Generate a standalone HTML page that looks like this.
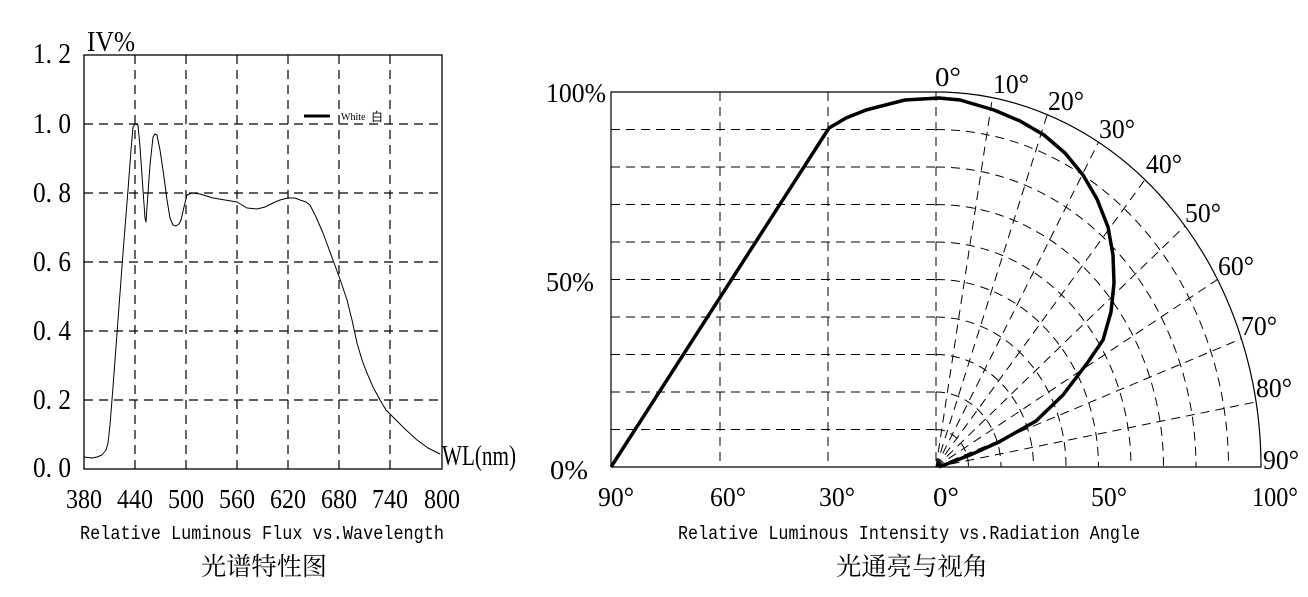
<!DOCTYPE html>
<html><head><meta charset="utf-8"><style>
html,body{margin:0;padding:0;background:#fff}
svg{display:block}
text{font-family:"Liberation Serif","Noto Serif CJK SC",serif;fill:#000}
.m{font-family:"Liberation Mono","Noto Sans CJK SC",monospace}
</style></head><body>
<svg width="1308" height="597" viewBox="0 0 1308 597" xmlns="http://www.w3.org/2000/svg">
<!-- LEFT CHART -->
<g stroke="#000" stroke-width="1.2" fill="none" stroke-dasharray="9,6">
<line x1="135" y1="55" x2="135" y2="469"/><line x1="186" y1="55" x2="186" y2="469"/>
<line x1="237" y1="55" x2="237" y2="469"/><line x1="288" y1="55" x2="288" y2="469"/>
<line x1="339" y1="55" x2="339" y2="469"/><line x1="390" y1="55" x2="390" y2="469"/>
<line x1="84" y1="124" x2="442" y2="124"/><line x1="84" y1="193" x2="442" y2="193"/>
<line x1="84" y1="262" x2="442" y2="262"/><line x1="84" y1="331" x2="442" y2="331"/>
<line x1="84" y1="400" x2="442" y2="400"/>
</g>
<rect x="84" y="55" width="358" height="414" fill="none" stroke="#000" stroke-width="1.3"/>
<polyline fill="none" stroke="#000" stroke-width="1" stroke-linejoin="round" points="84,457 92,458 97,457 102,455 106,450 108,443 110,425 113,387 118,320 123,253 128,190 131,150 133,127 135,124 138,125 140,147 143,190 145,218 146,222 147,207 150,165 153,137 155,134 157,135 160,150 163,170 167,200 170,218 173,225 176,226 179,224 181,220 184,207 187,195 192,193 200,194 213,198 225,200 237,202 242,205 247,208 257,209 265,207 273,203 280,200 288,198 295,198 300,200 306,202 310,205 316,217 323,233 333,260 341,282 347,300 352,320 357,343 362,360 367,373 373,387 380,400 386,410 393,417 405,429 417,440 428,448 440,454"/>
<line x1="304" y1="116" x2="330" y2="116" stroke="#000" stroke-width="3"/>
<text x="341" y="120" font-size="10">White</text><text x="371" y="121" font-size="12" style="font-family:'Noto Sans CJK SC',sans-serif">白</text>
<g font-size="29" lengthAdjust="spacingAndGlyphs">
<text x="33" y="63" textLength="38" lengthAdjust="spacingAndGlyphs">1. 2</text>
<text x="33" y="133" textLength="38" lengthAdjust="spacingAndGlyphs">1. 0</text>
<text x="33" y="202" textLength="38" lengthAdjust="spacingAndGlyphs">0. 8</text>
<text x="33" y="271" textLength="38" lengthAdjust="spacingAndGlyphs">0. 6</text>
<text x="33" y="340" textLength="38" lengthAdjust="spacingAndGlyphs">0. 4</text>
<text x="33" y="409" textLength="38" lengthAdjust="spacingAndGlyphs">0. 2</text>
<text x="33" y="477" textLength="38" lengthAdjust="spacingAndGlyphs">0. 0</text>
<text x="87" y="51" textLength="48" lengthAdjust="spacingAndGlyphs">IV%</text>
<text x="442" y="465" textLength="74" lengthAdjust="spacingAndGlyphs">WL(nm)</text>
</g>
<g font-size="27" text-anchor="middle">
<text x="84" y="508" textLength="36" lengthAdjust="spacingAndGlyphs">380</text><text x="135" y="508" textLength="36" lengthAdjust="spacingAndGlyphs">440</text>
<text x="186" y="508" textLength="36" lengthAdjust="spacingAndGlyphs">500</text><text x="237" y="508" textLength="36" lengthAdjust="spacingAndGlyphs">560</text>
<text x="288" y="508" textLength="36" lengthAdjust="spacingAndGlyphs">620</text><text x="339" y="508" textLength="36" lengthAdjust="spacingAndGlyphs">680</text>
<text x="390" y="508" textLength="36" lengthAdjust="spacingAndGlyphs">740</text><text x="442" y="508" textLength="36" lengthAdjust="spacingAndGlyphs">800</text>
</g>
<text class="m" x="80" y="539" font-size="19" textLength="364" lengthAdjust="spacingAndGlyphs">Relative Luminous Flux vs.Wavelength</text>
<text x="201" y="575" font-size="25" textLength="126" lengthAdjust="spacingAndGlyphs" style="font-family:'Noto Serif CJK SC',serif">光谱特性图</text>

<!-- RIGHT CHART -->
<g stroke="#000" stroke-width="1" fill="none" stroke-dasharray="9,6">
<line x1="720" y1="92" x2="720" y2="467"/><line x1="828" y1="92" x2="828" y2="467"/>
<line x1="936" y1="92" x2="936" y2="467"/>
<line x1="611" y1="129.5" x2="936" y2="129.5"/><line x1="611" y1="167" x2="936" y2="167"/>
<line x1="611" y1="204.5" x2="936" y2="204.5"/><line x1="611" y1="242" x2="936" y2="242"/>
<line x1="611" y1="279.5" x2="936" y2="279.5"/><line x1="611" y1="317" x2="936" y2="317"/>
<line x1="611" y1="354.5" x2="936" y2="354.5"/><line x1="611" y1="392" x2="936" y2="392"/>
<line x1="611" y1="429.5" x2="936" y2="429.5"/>
<path d="M936,429.5 A32.5,37.5 0 0 1 968.5,467"/>
<path d="M936,392 A65,75 0 0 1 1001,467"/>
<path d="M936,354.5 A97.5,112.5 0 0 1 1033.5,467"/>
<path d="M936,317 A130,150 0 0 1 1066,467"/>
<path d="M936,279.5 A162.5,187.5 0 0 1 1098.5,467"/>
<path d="M936,242 A195,225 0 0 1 1131,467"/>
<path d="M936,204.5 A227.5,262.5 0 0 1 1163.5,467"/>
<path d="M936,167 A260,300 0 0 1 1196,467"/>
<path d="M936,129.5 A292.5,337.5 0 0 1 1228.5,467"/>
<line x1="936" y1="467" x2="992.4" y2="97.7"/><line x1="936" y1="467" x2="1047.2" y2="114.6"/>
<line x1="936" y1="467" x2="1098.5" y2="142.2"/><line x1="936" y1="467" x2="1144.9" y2="179.7"/>
<line x1="936" y1="467" x2="1185" y2="225.9"/><line x1="936" y1="467" x2="1217.5" y2="279.5"/>
<line x1="936" y1="467" x2="1241.4" y2="338.7"/><line x1="936" y1="467" x2="1256.1" y2="401.9"/>
</g>
<g stroke="#000" stroke-width="1.2" fill="none">
<path d="M611,467 L611,92 L936,92 A325,375 0 0 1 1261,467 L611,467"/>
</g>
<polyline fill="none" stroke="#000" stroke-width="3.5" stroke-linejoin="round" points="611,467 829,128 846,118 866,110 905,100 939,98 960,100 994,110 1020,121 1044,135 1065,153 1083,175 1097,199 1108,227 1113,255 1114,283 1111,312 1103,340 1088,362 1063,395 1036,421 999,442 970,455 939,467"/>
<g font-size="27">
<text x="546" y="102" textLength="60" lengthAdjust="spacingAndGlyphs">100%</text>
<text x="546" y="291" textLength="48" lengthAdjust="spacingAndGlyphs">50%</text>
<text x="550" y="479" textLength="38" lengthAdjust="spacingAndGlyphs">0%</text>
</g>
<g font-size="27" text-anchor="middle">
<text x="616" y="506" textLength="36" lengthAdjust="spacingAndGlyphs">90°</text><text x="728" y="506" textLength="36" lengthAdjust="spacingAndGlyphs">60°</text>
<text x="837" y="506" textLength="36" lengthAdjust="spacingAndGlyphs">30°</text><text x="946" y="506" textLength="26" lengthAdjust="spacingAndGlyphs">0°</text>
<text x="1109" y="506" textLength="36" lengthAdjust="spacingAndGlyphs">50°</text><text x="1275" y="506" textLength="46" lengthAdjust="spacingAndGlyphs">100°</text>
<text x="948" y="86" textLength="26" lengthAdjust="spacingAndGlyphs">0°</text>
<text x="1011" y="93" textLength="36" lengthAdjust="spacingAndGlyphs">10°</text>
<text x="1066" y="110" textLength="36" lengthAdjust="spacingAndGlyphs">20°</text>
<text x="1117" y="138" textLength="36" lengthAdjust="spacingAndGlyphs">30°</text>
<text x="1164" y="173" textLength="36" lengthAdjust="spacingAndGlyphs">40°</text>
<text x="1203" y="222" textLength="36" lengthAdjust="spacingAndGlyphs">50°</text>
<text x="1236" y="275" textLength="36" lengthAdjust="spacingAndGlyphs">60°</text>
<text x="1259" y="335" textLength="36" lengthAdjust="spacingAndGlyphs">70°</text>
<text x="1274" y="397" textLength="36" lengthAdjust="spacingAndGlyphs">80°</text>
<text x="1281" y="469" textLength="36" lengthAdjust="spacingAndGlyphs">90°</text>
</g>
<text class="m" x="678" y="539" font-size="19" textLength="462" lengthAdjust="spacingAndGlyphs">Relative Luminous Intensity vs.Radiation Angle</text>
<text x="836" y="575" font-size="25" textLength="152" lengthAdjust="spacingAndGlyphs" style="font-family:'Noto Serif CJK SC',serif">光通亮与视角</text>
</svg>
</body></html>
